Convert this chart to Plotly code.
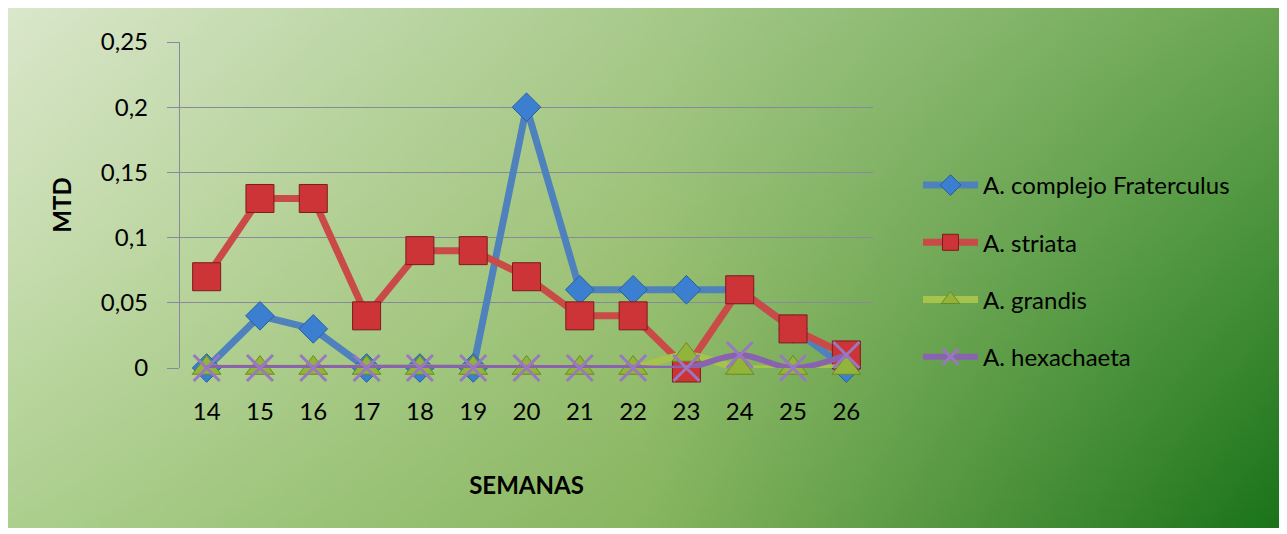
import base64, struct, zlib
import plotly.graph_objects as go

# ---------------- data ----------------
semanas = ["14", "15", "16", "17", "18", "19", "20", "21", "22", "23", "24", "25", "26"]
fraterculus = [0, 0.04, 0.03, 0, 0, 0, 0.2, 0.06, 0.06, 0.06, 0.06, 0.03, 0]
striata = [0.07, 0.13, 0.13, 0.04, 0.09, 0.09, 0.07, 0.04, 0.04, 0, 0.06, 0.03, 0.01]
grandis = [0, 0, 0, 0, 0, 0, 0, 0, 0, 0.01, 0, 0, 0]
hexachaeta = [0, 0, 0, 0, 0, 0, 0, 0, 0, 0, 0.01, 0, 0.01]
y_tickvals = [0, 0.05, 0.1, 0.15, 0.2, 0.25]
y_ticktext = ["0", "0,05", "0,1", "0,15", "0,2", "0,25"]

# ---------------- background gradient (PNG data URI) ----------------
grid = [
    [(0xda, 0xe7, 0xcb), (0xa8, 0xca, 0x8c), (0x6a, 0xa6, 0x52)],
    [(0xc6, 0xdc, 0xae), (0x9a, 0xc0, 0x73), (0x42, 0x8e, 0x36)],
    [(0xac, 0xcf, 0x8e), (0x88, 0xb6, 0x60), (0x1a, 0x73, 0x1a)],
]


def lerp(a, b, t):
    return tuple(a[i] + (b[i] - a[i]) * t for i in range(3))


def color_at(u, v):
    gu, gv = u * 2, v * 2
    i = min(int(gu), 1)
    j = min(int(gv), 1)
    fu, fv = gu - i, gv - j
    top = lerp(grid[j][i], grid[j][i + 1], fu)
    bot = lerp(grid[j + 1][i], grid[j + 1][i + 1], fu)
    c = lerp(top, bot, fv)
    return bytes(int(round(x)) for x in c)


W, H = 256, 128
rows = []
for yy in range(H):
    row = b"\x00" + b"".join(color_at(xx / (W - 1), yy / (H - 1)) for xx in range(W))
    rows.append(row)
raw = b"".join(rows)


def chunk(tag, data):
    c = struct.pack(">I", len(data)) + tag + data
    return c + struct.pack(">I", zlib.crc32(tag + data) & 0xFFFFFFFF)


png = b"\x89PNG\r\n\x1a\n" + chunk(b"IHDR", struct.pack(">IIBBBBB", W, H, 8, 2, 0, 0, 0)) \
    + chunk(b"IDAT", zlib.compress(raw, 9)) + chunk(b"IEND", b"")
bg_uri = "data:image/png;base64," + base64.b64encode(png).decode()

# ---------------- figure ----------------
FONT = "Lato, 'Open Sans', sans-serif"
fig = go.Figure()

fig.add_trace(go.Scatter(
    x=semanas, y=fraterculus, name="A. complejo Fraterculus", mode="lines+markers",
    line=dict(color="#4f81bd", width=7),
    marker=dict(symbol="diamond", size=22, color="#3c7fd0", line=dict(color="#2a5e9e", width=1)),
    legendgroup="a", cliponaxis=False))
fig.add_trace(go.Scatter(
    x=semanas, y=striata, name="A. striata", mode="lines+markers",
    line=dict(color="#c94a47", width=7),
    marker=dict(symbol="square", size=28, color="#cc3438", line=dict(color="#7e1a1c", width=1)),
    legendgroup="b", cliponaxis=False))
fig.add_trace(go.Scatter(
    x=semanas, y=grandis, name="A. grandis", mode="lines+markers",
    line=dict(color="#a6c34c", width=7, shape="spline"),
    marker=dict(symbol="triangle-up", size=25, color="#93b43a", line=dict(color="#6a8a22", width=1)),
    legendgroup="c", cliponaxis=False))
fig.add_trace(go.Scatter(
    x=semanas, y=hexachaeta, name="A. hexachaeta", mode="lines+markers",
    line=dict(color="#8a63b0", width=6, shape="spline"),
    marker=dict(symbol="x-thin", size=26, color="#9a78c0", line=dict(color="#9a78c0", width=3)),
    legendgroup="d", cliponaxis=False))

FW, FH = 1274, 520
L, T = 172, 34
R, B = FW - 865, FH - 360
pw, ph = FW - L - R, FH - T - B

fig.add_layout_image(dict(
    source=bg_uri, xref="paper", yref="paper",
    x=-L / pw, y=(FH - B) / ph,
    sizex=FW / pw, sizey=FH / ph,
    sizing="stretch", xanchor="left", yanchor="top", layer="below"))

fig.update_layout(
    width=FW, height=FH,
    margin=dict(l=L, r=R, t=T, b=B),
    paper_bgcolor="white", plot_bgcolor="rgba(0,0,0,0)",
    font=dict(family=FONT, size=24, color="#000000"),
    showlegend=True,
    legend=dict(x=(910 - L) / pw, y=(FH - B - 155) / ph, xanchor="left", yanchor="top",
                bgcolor="rgba(0,0,0,0)", font=dict(family=FONT, size=24),
                tracegroupgap=23, itemwidth=55, traceorder="grouped"),
    xaxis=dict(type="category", range=[-0.5, 12.5], showgrid=False, showline=False,
               zeroline=False, ticks="", ticklabelstandoff=27,
               tickfont=dict(family=FONT, size=24),
               title=dict(text="<b>SEMANAS</b>", font=dict(family=FONT, size=24), standoff=53)),
    yaxis=dict(range=[0, 0.25], tickvals=y_tickvals, ticktext=y_ticktext,
               showgrid=True, gridcolor="#878a9c", gridwidth=1.3,
               showline=True, linecolor="#878a9c", linewidth=1.3,
               zeroline=False, ticks="outside", ticklen=12, tickcolor="#878a9c",
               ticklabelstandoff=14, tickfont=dict(family=FONT, size=24),
               title=dict(text="<b>MTD</b>", font=dict(family=FONT, size=24), standoff=22)),
)

fig.write_html("out.html")
